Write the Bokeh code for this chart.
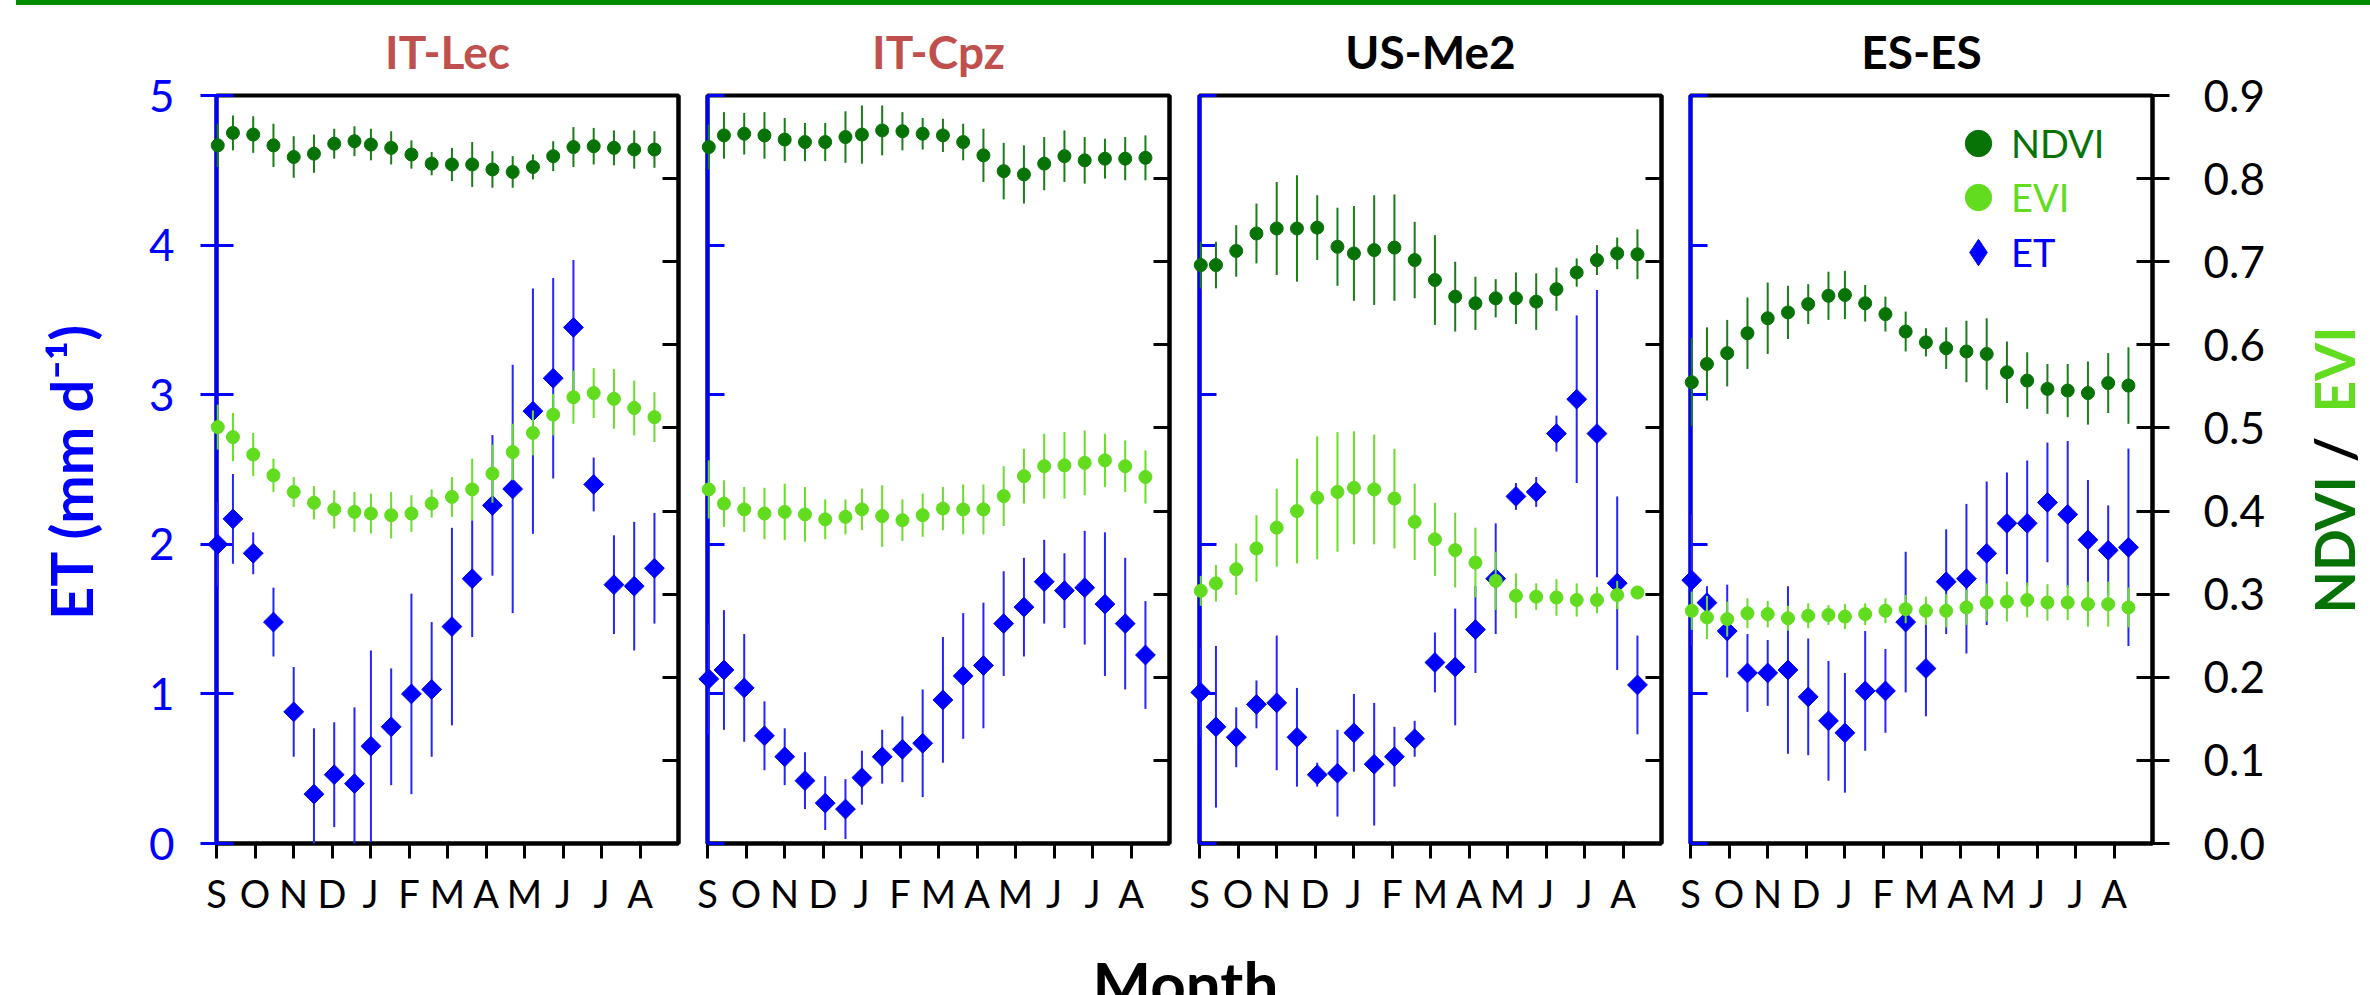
import math
import numpy as np
from bokeh.plotting import figure
from bokeh.layouts import row, column
from bokeh.models import (Range1d, LinearAxis, FixedTicker, Legend, LegendItem,
                          Label, NumeralTickFormatter, CustomJSTickFormatter, Spacer, Div)
from bokeh.embed import file_html
from bokeh.resources import INLINE

FONT = "Lato"
BLUE = "#0000ff"
NDVI_C = "#077307"
EVI_C = "#62dc1e"
TITLE_RED = "#c0504d"

# ---------------- data ----------------
# MODIS 16-day composites, days since 1 September
composite_day = [1, 13, 29, 45, 61, 77, 93, 109, 122, 138, 154, 170, 186,
                 202, 218, 234, 250, 266, 282, 298, 314, 330, 346]
month_labels = ["S", "O", "N", "D", "J", "F", "M", "A", "M", "J", "J", "A"]
sites = ["IT-Lec", "IT-Cpz", "US-Me2", "ES-ES"]
title_colors = [TITLE_RED, TITLE_RED, "black", "black"]

# IT-Lec
ndvi_it_lec = [0.840, 0.855, 0.853, 0.840, 0.826, 0.830, 0.842, 0.845, 0.841, 0.837, 0.829, 0.818,
               0.817, 0.817, 0.811, 0.808, 0.814, 0.827, 0.838, 0.839, 0.837, 0.835, 0.835]
ndvi_sd_it_lec = [0.026, 0.021, 0.022, 0.026, 0.025, 0.023, 0.018, 0.018, 0.019, 0.020, 0.017, 0.014,
                  0.020, 0.027, 0.022, 0.019, 0.015, 0.018, 0.024, 0.022, 0.021, 0.023, 0.022]
evi_it_lec = [0.501, 0.489, 0.468, 0.443, 0.423, 0.410, 0.402, 0.399, 0.397, 0.395, 0.397, 0.409,
              0.417, 0.426, 0.445, 0.471, 0.494, 0.516, 0.537, 0.542, 0.535, 0.524, 0.513]
evi_sd_it_lec = [0.027, 0.029, 0.026, 0.020, 0.018, 0.020, 0.023, 0.024, 0.024, 0.028, 0.022, 0.017,
                 0.024, 0.037, 0.035, 0.034, 0.027, 0.025, 0.032, 0.030, 0.036, 0.033, 0.030]
et_it_lec = [2.00, 2.17, 1.94, 1.48, 0.88, 0.33, 0.46, 0.40, 0.65, 0.78, 1.00, 1.03,
             1.45, 1.77, 2.26, 2.37, 2.89, 3.11, 3.45, 2.40, 1.73, 1.72, 1.84]
et_sd_it_lec = [0.28, 0.30, 0.14, 0.23, 0.30, 0.44, 0.35, 0.51, 0.64, 0.39, 0.67, 0.45,
                0.66, 0.39, 0.47, 0.83, 0.82, 0.67, 0.45, 0.18, 0.33, 0.43, 0.37]

# IT-Cpz
ndvi_it_cpz = [0.838, 0.852, 0.854, 0.852, 0.847, 0.844, 0.844, 0.850, 0.853, 0.858, 0.857, 0.854,
               0.852, 0.844, 0.828, 0.809, 0.805, 0.818, 0.827, 0.822, 0.824, 0.824, 0.825]
ndvi_sd_it_cpz = [0.027, 0.028, 0.025, 0.028, 0.026, 0.023, 0.023, 0.031, 0.035, 0.030, 0.023, 0.019,
                  0.020, 0.022, 0.032, 0.034, 0.035, 0.032, 0.031, 0.028, 0.024, 0.026, 0.027]
evi_it_cpz = [0.426, 0.409, 0.402, 0.397, 0.399, 0.396, 0.390, 0.393, 0.402, 0.394, 0.389, 0.395,
              0.403, 0.402, 0.402, 0.418, 0.442, 0.454, 0.455, 0.458, 0.461, 0.454, 0.441]
evi_sd_it_cpz = [0.035, 0.028, 0.027, 0.031, 0.034, 0.033, 0.024, 0.021, 0.025, 0.037, 0.025, 0.026,
                 0.026, 0.030, 0.030, 0.036, 0.033, 0.039, 0.040, 0.039, 0.032, 0.031, 0.032]
et_it_cpz = [1.10, 1.16, 1.04, 0.72, 0.58, 0.42, 0.27, 0.23, 0.44, 0.58, 0.63, 0.67,
             0.96, 1.12, 1.19, 1.47, 1.58, 1.75, 1.69, 1.71, 1.60, 1.47, 1.26]
et_sd_it_cpz = [0.37, 0.40, 0.36, 0.23, 0.19, 0.19, 0.18, 0.20, 0.18, 0.18, 0.22, 0.36,
                0.42, 0.42, 0.42, 0.35, 0.33, 0.28, 0.25, 0.38, 0.48, 0.44, 0.36]

# US-Me2
ndvi_us_me2 = [0.696, 0.696, 0.713, 0.734, 0.740, 0.740, 0.741, 0.718, 0.710, 0.714, 0.717, 0.702,
               0.678, 0.658, 0.650, 0.656, 0.656, 0.652, 0.667, 0.687, 0.702, 0.710, 0.709]
ndvi_sd_us_me2 = [0.028, 0.028, 0.031, 0.036, 0.056, 0.064, 0.039, 0.047, 0.057, 0.066, 0.064, 0.046,
                  0.054, 0.042, 0.032, 0.023, 0.031, 0.034, 0.026, 0.017, 0.018, 0.019, 0.030]
evi_us_me2 = [0.304, 0.313, 0.330, 0.355, 0.380, 0.400, 0.416, 0.423, 0.428, 0.426, 0.415, 0.387,
              0.366, 0.353, 0.338, 0.316, 0.298, 0.297, 0.296, 0.293, 0.293, 0.299, 0.302]
evi_sd_us_me2 = [0.018, 0.022, 0.031, 0.040, 0.047, 0.063, 0.074, 0.072, 0.068, 0.066, 0.060, 0.046,
                 0.044, 0.045, 0.042, 0.035, 0.027, 0.016, 0.022, 0.020, 0.016, 0.017, 0.008]
et_us_me2 = [1.01, 0.78, 0.71, 0.93, 0.94, 0.71, 0.46, 0.47, 0.74, 0.53, 0.58, 0.70,
             1.21, 1.18, 1.43, 1.77, 2.32, 2.35, 2.74, 2.97, 2.74, 1.74, 1.06]
et_sd_us_me2 = [0.30, 0.54, 0.20, 0.16, 0.45, 0.33, 0.08, 0.29, 0.26, 0.41, 0.20, 0.12,
                0.20, 0.39, 0.29, 0.37, 0.09, 0.10, 0.12, 0.56, 0.96, 0.58, 0.33]

# ES-ES
ndvi_es_es = [0.555, 0.577, 0.590, 0.614, 0.632, 0.639, 0.649, 0.659, 0.660, 0.650, 0.637, 0.616,
              0.603, 0.596, 0.592, 0.589, 0.567, 0.557, 0.547, 0.545, 0.542, 0.554, 0.551]
ndvi_sd_es_es = [0.053, 0.044, 0.040, 0.043, 0.043, 0.032, 0.024, 0.029, 0.029, 0.022, 0.021, 0.024,
                 0.017, 0.025, 0.037, 0.043, 0.037, 0.034, 0.030, 0.032, 0.038, 0.036, 0.046]
evi_es_es = [0.280, 0.272, 0.270, 0.277, 0.276, 0.271, 0.274, 0.275, 0.273, 0.276, 0.280, 0.282,
             0.280, 0.280, 0.284, 0.290, 0.291, 0.293, 0.290, 0.290, 0.288, 0.288, 0.284]
evi_sd_es_es = [0.023, 0.026, 0.021, 0.018, 0.016, 0.015, 0.015, 0.012, 0.015, 0.013, 0.015, 0.017,
                0.017, 0.020, 0.021, 0.023, 0.024, 0.021, 0.022, 0.021, 0.027, 0.027, 0.024]
et_es_es = [1.76, 1.61, 1.42, 1.14, 1.14, 1.16, 0.98, 0.82, 0.74, 1.02, 1.02, 1.48,
            1.17, 1.75, 1.77, 1.94, 2.14, 2.14, 2.28, 2.20, 2.03, 1.96, 1.98]
et_sd_es_es = [0.44, 0.11, 0.31, 0.26, 0.22, 0.56, 0.39, 0.40, 0.40, 0.40, 0.28, 0.47,
               0.32, 0.35, 0.50, 0.48, 0.34, 0.42, 0.40, 0.49, 0.40, 0.30, 0.66]

panel_data = [
    (ndvi_it_lec, ndvi_sd_it_lec, evi_it_lec, evi_sd_it_lec, et_it_lec, et_sd_it_lec),
    (ndvi_it_cpz, ndvi_sd_it_cpz, evi_it_cpz, evi_sd_it_cpz, et_it_cpz, et_sd_it_cpz),
    (ndvi_us_me2, ndvi_sd_us_me2, evi_us_me2, evi_sd_us_me2, et_us_me2, et_sd_us_me2),
    (ndvi_es_es, ndvi_sd_es_es, evi_es_es, evi_sd_es_es, et_es_es, et_sd_es_es),
]

# ---------------- layout ----------------
FIG_H = 945
BORDER_TOP = 90
BORDER_BOTTOM = 107
LEFT_W = 110
RIGHT_W = 80
fig_specs = [(582, 106, 14), (492, 15, 15), (491, 15, 14), (615, 15, 138)]

blank = CustomJSTickFormatter(code="return ''")


def plain_fig(width, height, bg="white"):
    f = figure(width=width, height=height, title=None, output_backend="svg",
               toolbar_location=None, min_border_left=0, min_border_right=0,
               min_border_top=0, min_border_bottom=0, x_axis_type=None, y_axis_type=None,
               outline_line_color=None, background_fill_color=bg, border_fill_color=bg,
               x_range=Range1d(0, 1), y_range=Range1d(0, 1))
    f.grid.visible = False
    return f


def make_panel(k):
    width, bl, br = fig_specs[k]
    ndvi, ndvi_sd, evi, evi_sd, et, et_sd = panel_data[k]
    p = figure(width=width, height=FIG_H, x_range=Range1d(0, 12), y_range=Range1d(0, 5),
               output_backend="svg", toolbar_location=None,
               min_border_left=bl, min_border_right=br,
               min_border_top=BORDER_TOP, min_border_bottom=BORDER_BOTTOM,
               background_fill_color="white", border_fill_color="white",
               outline_line_color="black", outline_line_width=4)
    p.extra_y_ranges = {"vi": Range1d(0, 0.9), "legend_only": Range1d(100, 101)}
    p.xgrid.visible = False
    p.ygrid.visible = False

    x = np.array(composite_day) * 12.0 / 365.0
    et_a = np.array(et); et_e = np.array(et_sd)
    nd_a = np.array(ndvi); nd_e = np.array(ndvi_sd)
    ev_a = np.array(evi); ev_e = np.array(evi_sd)

    # ET
    p.segment(x0=x, y0=np.maximum(et_a - et_e, 0), x1=x, y1=et_a + et_e,
              line_color="#2424ff", line_width=2, level="overlay")
    p.scatter(x=x, y=et_a, marker="square", angle=math.pi / 4, size=14,
              fill_color=BLUE, line_color=BLUE, level="overlay")
    # EVI
    p.segment(x0=x, y0=ev_a - ev_e, x1=x, y1=ev_a + ev_e, y_range_name="vi",
              line_color="#6ade2a", line_width=2, level="overlay")
    r_evi = p.scatter(x=x, y=ev_a, y_range_name="vi", marker="circle", size=13,
                      fill_color=EVI_C, line_color=EVI_C, level="overlay")
    # NDVI
    p.segment(x0=x, y0=nd_a - nd_e, x1=x, y1=nd_a + nd_e, y_range_name="vi",
              line_color="#1a7d1a", line_width=2, level="overlay")
    r_ndvi = p.scatter(x=x, y=nd_a, y_range_name="vi", marker="circle", size=13,
                       fill_color=NDVI_C, line_color=NDVI_C, level="overlay")

    # title
    p.title.text = sites[k]
    p.title.align = "center"
    p.title.text_font = FONT
    p.title.text_font_size = "46px"
    p.title.text_font_style = "bold"
    p.title.text_color = title_colors[k]
    p.title.standoff = 33

    # left ET axis
    yl = p.yaxis[0]
    yl.ticker = FixedTicker(ticks=[0, 1, 2, 3, 4, 5])
    yl.axis_line_color = BLUE
    yl.axis_line_width = 4
    yl.major_tick_line_color = BLUE
    yl.major_tick_line_width = 3
    yl.major_tick_in = 17
    yl.minor_tick_line_color = None
    yl.minor_tick_in = 0
    yl.minor_tick_out = 0
    if k == 0:
        yl.major_tick_out = 16
        yl.major_label_standoff = 26
        yl.major_label_text_font = FONT
        yl.major_label_text_font_size = "44px"
        yl.major_label_text_color = BLUE
    else:
        yl.major_tick_out = 0
        yl.formatter = blank
        yl.major_label_standoff = 0
        yl.major_label_text_font_size = "1px"

    # right NDVI/EVI axis
    yr = LinearAxis(y_range_name="vi", ticker=FixedTicker(ticks=[i / 10 for i in range(10)]))
    yr.axis_line_color = "black"
    yr.axis_line_width = 4
    yr.major_tick_line_color = "black"
    yr.major_tick_line_width = 3
    yr.major_tick_in = 16
    yr.minor_tick_line_color = None
    yr.minor_tick_in = 0
    yr.minor_tick_out = 0
    if k == 3:
        yr.major_tick_out = 17
        yr.formatter = NumeralTickFormatter(format="0.0")
        yr.major_label_standoff = 34
        yr.major_label_text_font = FONT
        yr.major_label_text_font_size = "44px"
        yr.major_label_text_color = "black"
    else:
        yr.major_tick_out = 0
        yr.formatter = blank
        yr.major_label_standoff = 0
        yr.major_label_text_font_size = "1px"
    p.add_layout(yr, "right")

    # month axis
    xb = p.xaxis[0]
    xb.ticker = FixedTicker(ticks=list(range(12)))
    xb.major_label_overrides = {i: m for i, m in enumerate(month_labels)}
    xb.axis_line_color = "black"
    xb.axis_line_width = 4
    xb.major_tick_line_color = "black"
    xb.major_tick_line_width = 3
    xb.major_tick_in = 0
    xb.major_tick_out = 15
    xb.minor_tick_line_color = None
    xb.minor_tick_in = 0
    xb.minor_tick_out = 0
    xb.major_label_standoff = 11
    xb.major_label_text_font = FONT
    xb.major_label_text_font_size = "38px"
    xb.major_label_text_color = "black"

    if k == 3:
        # legend-only diamond: same ET data, mapped to a range outside the frame
        r_et_key = p.scatter(x=x, y=et_a, y_range_name="legend_only", marker="diamond",
                             size=14, fill_color=BLUE, line_color=BLUE)
        for name, rend, col, bottom in [("NDVI", r_ndvi, NDVI_C, 667),
                                        ("EVI", r_evi, EVI_C, 613),
                                        ("ET", r_et_key, BLUE, 558)]:
            lg = Legend(items=[LegendItem(label=name, renderers=[rend])],
                        location=(255, bottom), orientation="vertical",
                        glyph_width=66, glyph_height=66, label_standoff=0,
                        padding=0, margin=0, spacing=0,
                        border_line_color=None, background_fill_alpha=0,
                        label_text_font=FONT, label_text_font_size="38px",
                        label_text_color=col, label_text_baseline="middle")
            p.add_layout(lg)
    return p


panels = [make_panel(k) for k in range(4)]

# left: ET axis title (frame of this figure is aligned with the panels' frames)
left_fig = plain_fig(LEFT_W, FIG_H)
left_fig.add_layout(Label(x=70, y=372, x_units="screen", y_units="screen",
                          angle=math.pi / 2, text="ET (mm d\u207b\u00b9)",
                          text_align="center", text_baseline="alphabetic",
                          text_font=FONT, text_font_size="58px", text_font_style="bold",
                          text_color=BLUE))

# right: two-coloured NDVI / EVI axis title
right_fig = plain_fig(RIGHT_W, FIG_H)
for txt, yy, align, col in [("NDVI", 230, "left", NDVI_C),
                            ("/", 394, "center", "black"),
                            ("EVI", 431, "left", EVI_C)]:
    right_fig.add_layout(Label(x=43, y=yy, x_units="screen", y_units="screen",
                               angle=math.pi / 2, text=txt, text_align=align,
                               text_baseline="alphabetic", text_font=FONT,
                               text_font_size="55px", text_font_style="bold",
                               text_color=col))

# top green rule
strip = Div(text="", width=2354, height=5,
            styles={"background-color": "#008c00", "margin": "0", "padding": "0"})
top_row = row(Spacer(width=16, height=5), strip, spacing=0)

# bottom "Month" label
month_fig = plain_fig(2370, 45)
month_fig.add_layout(Label(x=1185, y=13, x_units="screen", y_units="screen", text="Month",
                           text_align="center", text_baseline="alphabetic", text_font=FONT,
                           text_font_size="62px", text_font_style="bold", text_color="black"))

layout = column(top_row, row(left_fig, *panels, right_fig, spacing=0), month_fig, spacing=0)

with open("out.html", "w") as f:
    f.write(file_html(layout, INLINE))
